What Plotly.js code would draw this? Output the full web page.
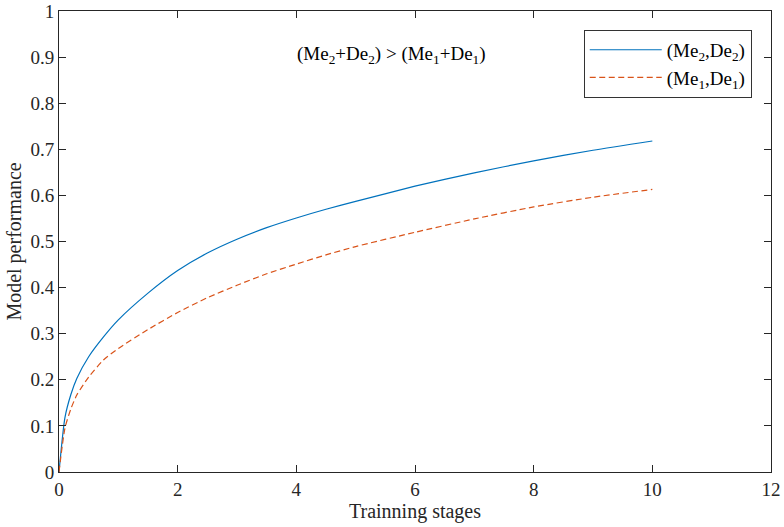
<!DOCTYPE html>
<html>
<head>
<meta charset="utf-8">
<script src="https://cdn.plot.ly/plotly-3.0.1.min.js"></script>
<style>html,body{margin:0;padding:0;background:#fff;}#chart{width:784px;height:527px;}</style>
</head>
<body>
<div id="chart"></div>
<script>
// Training stages (x) and model performance readings
var stages = [0, 0.1, 0.2, 0.3, 0.5, 0.75, 1, 1.5, 2, 2.5, 3, 3.5, 4, 4.5, 5, 6, 7, 8, 9, 10];
var perfMe2De2 = [0, 0.118, 0.168, 0.203, 0.25, 0.293, 0.33, 0.388, 0.437, 0.475, 0.505, 0.53, 0.551, 0.57, 0.587, 0.62, 0.649, 0.675, 0.698, 0.718];
var perfMe1De1 = [0, 0.095, 0.137, 0.167, 0.206, 0.243, 0.268, 0.309, 0.346, 0.378, 0.405, 0.43, 0.451, 0.471, 0.489, 0.52, 0.549, 0.575, 0.596, 0.613];
var seriesNames = ['(Me<sub>2</sub>,De<sub>2</sub>)', '(Me<sub>1</sub>,De<sub>1</sub>)'];
var xTicks = [0, 2, 4, 6, 8, 10, 12];
var yTicks = [0, 0.1, 0.2, 0.3, 0.4, 0.5, 0.6, 0.7, 0.8, 0.9, 1];
var noteText = '(Me<sub>2</sub>+De<sub>2</sub>) > (Me<sub>1</sub>+De<sub>1</sub>)';

var font = 'Liberation Serif, Times New Roman, serif';
var axisColor = '#262626';

var traces = [
  {x: stages, y: perfMe2De2, name: seriesNames[0], type: 'scatter', mode: 'lines',
   line: {color: '#0072BD', width: 1.2, shape: 'spline', smoothing: 0.6}},
  {x: stages, y: perfMe1De1, name: seriesNames[1], type: 'scatter', mode: 'lines',
   line: {color: '#D95319', width: 1.2, dash: '6px,3.5px', shape: 'spline', smoothing: 0.6}}
];

var axisCommon = {
  showgrid: false, zeroline: false, showline: true, linecolor: axisColor, linewidth: 1,
  mirror: 'ticks', ticks: 'inside', ticklen: 7, tickwidth: 1, tickcolor: axisColor,
  tickfont: {family: font, size: 19, color: axisColor}
};

var layout = {
  width: 784, height: 527,
  margin: {l: 59, r: 13, t: 11, b: 55},
  paper_bgcolor: '#fff', plot_bgcolor: '#fff',
  font: {family: font, size: 19, color: axisColor},
  xaxis: Object.assign({}, axisCommon, {
    range: [0, 12], tickmode: 'array', tickvals: xTicks, ticktext: xTicks.map(String),
    title: {text: 'Trainning stages', font: {family: font, size: 20, color: axisColor}, standoff: 2}
  }),
  yaxis: Object.assign({}, axisCommon, {
    range: [0, 1], tickmode: 'array', tickvals: yTicks, ticktext: yTicks.map(String),
    title: {text: 'Model performance', font: {family: font, size: 20, color: axisColor}, standoff: 3}
  }),
  showlegend: true,
  legend: {
    x: 0.737, y: 0.959, xanchor: 'left', yanchor: 'top',
    bgcolor: '#fff', bordercolor: '#333', borderwidth: 1,
    font: {family: font, size: 19, color: '#000'},
    itemwidth: 72, tracegroupgap: 0
  },
  annotations: [{
    text: noteText, xref: 'x', yref: 'y', x: 5.6, y: 0.905,
    showarrow: false, font: {family: font, size: 19, color: '#000'}
  }]
};

Plotly.newPlot('chart', traces, layout, {displayModeBar: false});
</script>
</body>
</html>
